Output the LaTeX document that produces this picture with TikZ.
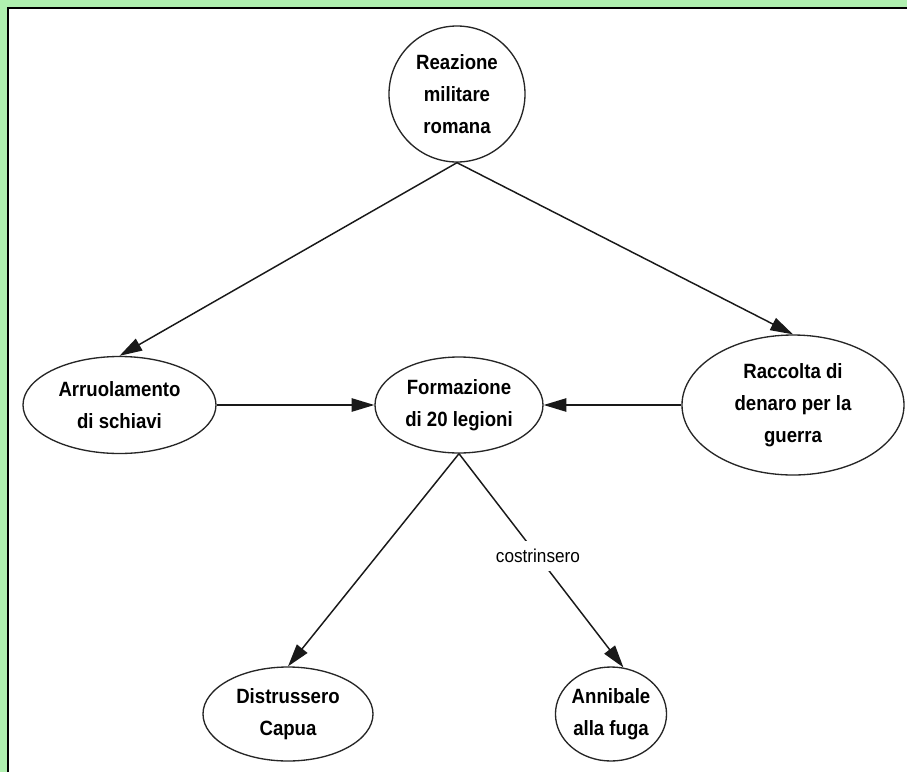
\documentclass[tikz,border=0pt]{standalone}
\usepackage{fontspec}
\setmainfont{Liberation Sans}[FakeStretch=0.9]
\newfontfamily\labelfont{Liberation Sans}[FakeStretch=0.92]
\usetikzlibrary{arrows.meta,shapes.geometric}
\definecolor{bordergreen}{RGB}{176,240,176}
\tikzset{
  conc/.style={ellipse,draw=black!85,line width=1pt,inner sep=0pt,align=center,
    font=\bfseries\fontsize{15.5}{24}\selectfont},
  link/.style={draw=black!90,line width=1.1pt,-{Triangle[length=17pt,width=10pt]}},
  lbl/.style={fill=white,inner xsep=2pt,inner ysep=6pt,font=\labelfont\fontsize{14}{16}\selectfont}
}
\begin{document}
\begin{tikzpicture}[x=0.75pt,y=-0.75pt]
\useasboundingbox (0,0) rectangle (907,772);
\fill[white] (0,0) rectangle (907,772);
% green border band (top and left)
\fill[bordergreen] (0,0) rectangle (907,7);
\fill[bordergreen] (0,0) rectangle (7,772);
\draw[black,line width=1.6pt] (8,772) -- (8,8) -- (907,8);

\node[conc,circle,minimum size=102pt] (top) at (457,94) {Reazione\\militare\\romana};
\node[conc,minimum width=144.75pt,minimum height=72.75pt] (arr) at (119.5,405) {Arruolamento\\di schiavi};
\node[conc,minimum width=126pt,minimum height=72pt] (form) at (459,405) {Formazione\\di 20 legioni};
\node[conc,minimum width=166.5pt,minimum height=105pt] (rac) at (793,405) {Raccolta di\\denaro per la\\guerra};
\node[conc,minimum width=127.5pt,minimum height=70.5pt] (dis) at (288,714) {Distrussero\\Capua};
\node[conc,minimum width=76.5pt,minimum height=70.5pt] (ann) at (611,714) {Annibale\\alla fuga};

\draw[link] (top.south) -- (arr.north);
\draw[link] (top.south) -- (rac.north);
\draw[link] (arr.east) -- (form.west);
\draw[link] (rac.west) -- (form.east);
\draw[link] (form.south) -- (dis.north);
\draw[link] (form.south) -- node[lbl,pos=0.48] {costrinsero} (ann.75);
\end{tikzpicture}
\end{document}
